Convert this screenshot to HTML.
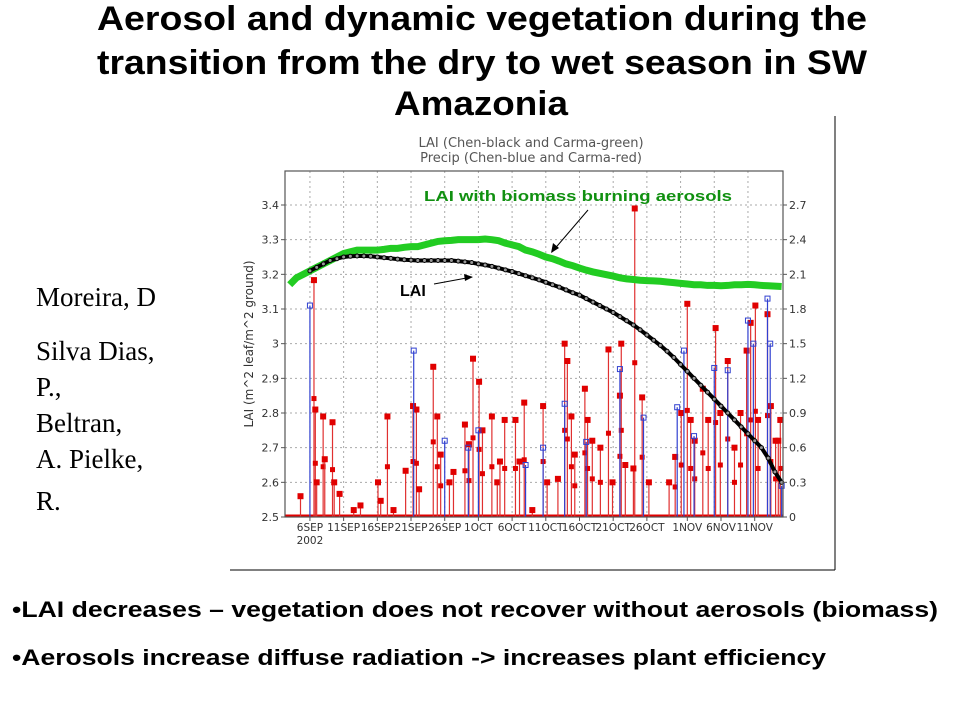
<!DOCTYPE html>
<html><head><meta charset="utf-8"><style>
html,body{margin:0;padding:0;background:#fff;}
svg{display:block;}
</style></head><body>
<svg id="s" width="960" height="720" viewBox="0 0 960 720" xmlns="http://www.w3.org/2000/svg">
<rect width="960" height="720" fill="#fff"/>
<g font-family="Liberation Sans, Arial, sans-serif" font-weight="bold" fill="#000">
<text x="97" y="30" font-size="34" textLength="770" lengthAdjust="spacingAndGlyphs">Aerosol and dynamic vegetation during the</text>
<text x="97" y="74" font-size="34" textLength="770" lengthAdjust="spacingAndGlyphs">transition from the dry to wet season in SW</text>
<text x="394" y="115" font-size="34" textLength="174" lengthAdjust="spacingAndGlyphs">Amazonia</text>
</g>
<g font-family="Liberation Serif, serif" font-size="27" fill="#000">
<text x="36" y="306">Moreira, D</text>
<text x="36" y="360">Silva Dias,</text>
<text x="36" y="396">P.,</text>
<text x="36" y="432">Beltran,</text>
<text x="36" y="468">A. Pielke,</text>
<text x="36" y="510">R.</text>
</g>
<g font-family="Liberation Sans, Arial, sans-serif" font-weight="bold" font-size="22" fill="#000">
<text x="12" y="617" textLength="926" lengthAdjust="spacingAndGlyphs">•LAI decreases – vegetation does not recover without aerosols (biomass)</text>
<text x="12" y="665" textLength="814" lengthAdjust="spacingAndGlyphs">•Aerosols increase diffuse radiation -&gt; increases plant efficiency</text>
</g>
<g stroke="#000" stroke-width="1">
<line x1="835" y1="116" x2="835" y2="570"/>
<line x1="230" y1="570" x2="835" y2="570"/>
</g>
<g font-family="DejaVu Sans, sans-serif" font-size="13" fill="#555" text-anchor="middle">
<text x="531" y="147">LAI (Chen-black and Carma-green)</text>
<text x="531" y="162">Precip (Chen-blue and Carma-red)</text>
</g>
<g id="chart"></g>
</svg>
<script>
// LAI series: daily values, days since 1 Sep 2002
const laiDays = [2,3,4,5,6,7,8,9,10,11,12,13,14,15,16,17,18,19,20,21,22,23,24,25,26,27,28,29,30,31,32,33,34,35,36,37,38,39,40,41,42,43,44,45,46,47,48,49,50,51,52,53,54,55,56,57,58,59,60,61,62,63,64,65,66,67,68,69,70,71,72,73,74,75];
const laiAerosol = [3.17,3.19,3.2,3.21,3.22,3.23,3.24,3.25,3.26,3.265,3.27,3.27,3.27,3.27,3.272,3.275,3.275,3.278,3.28,3.28,3.285,3.29,3.295,3.297,3.298,3.3,3.3,3.3,3.3,3.302,3.3,3.297,3.29,3.285,3.28,3.27,3.265,3.258,3.25,3.245,3.238,3.23,3.225,3.218,3.212,3.207,3.203,3.199,3.195,3.19,3.187,3.185,3.183,3.182,3.181,3.18,3.178,3.176,3.174,3.172,3.17,3.17,3.168,3.168,3.167,3.168,3.17,3.17,3.171,3.17,3.168,3.167,3.166,3.165];
const laiChen = [null,null,null,3.21,3.22,3.23,3.24,3.245,3.25,3.252,3.253,3.253,3.252,3.25,3.248,3.246,3.244,3.242,3.241,3.24,3.24,3.24,3.24,3.24,3.24,3.238,3.236,3.234,3.23,3.227,3.223,3.218,3.213,3.208,3.202,3.196,3.19,3.184,3.177,3.17,3.163,3.155,3.147,3.14,3.13,3.12,3.11,3.1,3.09,3.078,3.066,3.054,3.04,3.025,3.01,2.995,2.978,2.96,2.94,2.92,2.9,2.88,2.86,2.84,2.82,2.8,2.78,2.76,2.74,2.72,2.70,2.67,2.63,2.6];
// Precip (right axis): Carma-red and Chen-blue
const redDays = [3.6,5.6,5.8,6.0,6.96,7.2,8.35,8.6,9.4,11.5,12.5,15.1,15.5,16.5,17.4,19.2,20.3,20.8,21.2,23.3,23.9,24.4,25.7,26.3,28,28.6,29.2,30.1,30.6,32,32.8,33.9,33.2,35.5,36.1,36.8,38,39.6,40.2,41.8,42.8,43.2,43.8,44.3,45.8,46.2,46.9,48.1,49.3,49.9,51.2,51.0,51.8,53.2,53.0,54.3,55.3,58.3,59.2,60.1,61,61.5,62.1,63.3,64.1,65.2,65.9,67,68,68.9,69.8,70.4,71.1,71.5,72.9,73.4,74.1,74.8,74.5];
const redVals = [0.18,2.05,0.93,0.3,0.87,0.5,0.82,0.3,0.2,0.06,0.1,0.3,0.14,0.87,0.06,0.4,0.96,0.93,0.24,1.3,0.87,0.54,0.3,0.39,0.8,0.63,1.37,1.17,0.75,0.87,0.3,0.84,0.48,0.84,0.48,0.99,0.06,0.96,0.3,0.33,1.5,1.35,0.87,0.54,1.11,0.84,0.66,0.6,1.45,0.3,1.5,1.05,0.45,2.67,0.42,1.035,0.3,0.3,0.52,0.9,1.845,0.84,0.66,1.11,0.84,1.635,0.9,1.35,0.6,0.9,1.44,1.68,1.83,0.84,1.755,0.96,0.66,0.84,0.66];
const blueDays = [5.0,20.4,25,28.5,30,37,39.6,42.8,46,51,54.5,59.5,60.5,62,65,67,70,70.8,72.9,73.3,75];
const blueVals = [1.83,1.44,0.66,0.6,0.75,0.45,0.6,0.98,0.65,1.28,0.86,0.95,1.44,0.7,1.29,1.27,1.7,1.5,1.89,1.5,0.27];
const leftTicks = [2.5,2.6,2.7,2.8,2.9,3,3.1,3.2,3.3,3.4];
const leftTickLabels = ["2.5","2.6","2.7","2.8","2.9","3","3.1","3.2","3.3","3.4"];
const rightTicks = [0,0.3,0.6,0.9,1.2,1.5,1.8,2.1,2.4,2.7];
const rightTickLabels = ["0","0.3","0.6","0.9","1.2","1.5","1.8","2.1","2.4","2.7"];
const dateTicks = [5,10,15,20,25,30,35,40,45,50,55,61,66,71];
const dateLabels = ["6SEP","11SEP","16SEP","21SEP","26SEP","1OCT","6OCT","11OCT","16OCT","21OCT","26OCT","1NOV","6NOV","11NOV"];
const gridDays = [5,10,15,20,25,30,35,40,45,50,55,60,65,70];

const NS = "http://www.w3.org/2000/svg";
const L = 285, R = 783, T = 171, B = 517;
const xs = d => L + (d - 1.3) / (75.2 - 1.3) * (R - L);
const yl = v => B - (v - 2.5) / (3.4 - 2.5) * (B - 205);
const yr = v => B - v / 2.7 * (B - 205);
const g = document.getElementById('chart');
function mk(tag, attrs, parent) {
  const e = document.createElementNS(NS, tag);
  for (const k in attrs) e.setAttribute(k, attrs[k]);
  (parent || g).appendChild(e);
  return e;
}
const grid = mk('g', {stroke: '#aaa', 'stroke-width': 1, 'stroke-dasharray': '2,3'});


leftTicks.forEach(v => mk('line', {x1: L, x2: R, y1: yl(v), y2: yl(v)}, grid));
gridDays.forEach(d => mk('line', {x1: xs(d), x2: xs(d), y1: T, y2: B}, grid));

const red = mk('g', {});


mk('line', {x1: L, x2: R, y1: B - 1, y2: B - 1, stroke: '#e00000', 'stroke-width': 3}, red);
redDays.forEach((d, i) => {
  const x = xs(d), y = yr(redVals[i]);
  mk('line', {x1: x, x2: x, y1: B, y2: y, stroke: '#e03030', 'stroke-width': 1.2}, red);
  mk('rect', {x: x - 3, y: y - 3, width: 6, height: 6, fill: '#e00000'}, red);
  if (redVals[i] > 0.5) mk('rect', {x: x - 2.5, y: (y + B) / 2 - 2.5, width: 5, height: 5, fill: '#e00000'}, red);
});
const blue = mk('g', {});


blueDays.forEach((d, i) => {
  const x = xs(d), y = yr(blueVals[i]);
  mk('line', {x1: x, x2: x, y1: B, y2: y, stroke: '#3040d0', 'stroke-width': 1.2}, blue);
  mk('rect', {x: x - 2.5, y: y - 2.5, width: 5, height: 5, fill: 'none', stroke: '#3040d0', 'stroke-width': 1}, blue);
});

const gr = mk('g', {});


mk('polyline', {points: laiDays.map((d, i) => xs(d) + ',' + yl(laiAerosol[i])).join(' '), fill: 'none', stroke: '#22cc22', 'stroke-width': 7}, gr);
const bk = mk('g', {});


const pts = [];
laiDays.forEach((d, i) => { if (laiChen[i] !== null) pts.push(xs(d) + ',' + yl(laiChen[i])); });
mk('polyline', {points: pts.join(' '), fill: 'none', stroke: '#000', 'stroke-width': 4}, bk);
laiDays.forEach((d, i) => {
  if (laiChen[i] === null) return;
  mk('circle', {cx: xs(d), cy: yl(laiChen[i]), r: 2, fill: '#999', stroke: '#000', 'stroke-width': 1}, bk);
});

const ax = mk('g', {});


mk('rect', {x: L, y: T, width: R - L, height: B - T, fill: 'none', stroke: '#555', 'stroke-width': 1.2}, ax);
const lbl = mk('g', {'font-family': 'DejaVu Sans, sans-serif', 'font-size': 11, fill: '#333'});


leftTicks.forEach((v, i) => {
  mk('line', {x1: L - 4, x2: L, y1: yl(v), y2: yl(v), stroke: '#555'}, ax);
  const t = mk('text', {x: L - 6, y: yl(v) + 4, 'text-anchor': 'end'}, lbl); t.textContent = leftTickLabels[i];
});
rightTicks.forEach((v, i) => {
  mk('line', {x1: R, x2: R + 4, y1: yr(v), y2: yr(v), stroke: '#555'}, ax);
  const t = mk('text', {x: R + 6, y: yr(v) + 4, 'text-anchor': 'start'}, lbl); t.textContent = rightTickLabels[i];
});
dateTicks.forEach((d, i) => {
  mk('line', {x1: xs(d), x2: xs(d), y1: B, y2: B + 4, stroke: '#555'}, ax);
  const t = mk('text', {x: xs(d), y: B + 14, 'text-anchor': 'middle', 'font-size': 10.5}, lbl); t.textContent = dateLabels[i];
});
const yr2 = mk('text', {x: xs(5), y: B + 27, 'text-anchor': 'middle', 'font-size': 10.5}, lbl); yr2.textContent = '2002';
const yt = mk('text', {x: 0, y: 0, 'text-anchor': 'middle', transform: 'translate(253,344) rotate(-90)', 'font-family': 'DejaVu Sans, sans-serif', 'font-size': 12, fill: '#333'});


yt.textContent = 'LAI (m^2 leaf/m^2 ground)';

const an = mk('g', {'font-family': 'Liberation Sans, Arial, sans-serif', 'font-weight': 'bold'});


const a1 = mk('text', {x: 424, y: 201, 'font-size': 15, fill: '#109010', textLength: 308, lengthAdjust: 'spacingAndGlyphs'}, an);
a1.textContent = 'LAI with biomass burning aerosols';
mk('line', {x1: 588, y1: 210, x2: 552, y2: 252, stroke: '#000', 'stroke-width': 1}, an);
mk('polygon', {points: '551,253 553,243 559,248', fill: '#000'}, an);
const a2 = mk('text', {x: 400, y: 296, 'font-size': 16, fill: '#000'}, an);
a2.textContent = 'LAI';
mk('line', {x1: 434, y1: 284, x2: 472, y2: 277, stroke: '#000', 'stroke-width': 1}, an);
mk('polygon', {points: '473,277 464,274 465,281', fill: '#000'}, an);
</script>
</body></html>
